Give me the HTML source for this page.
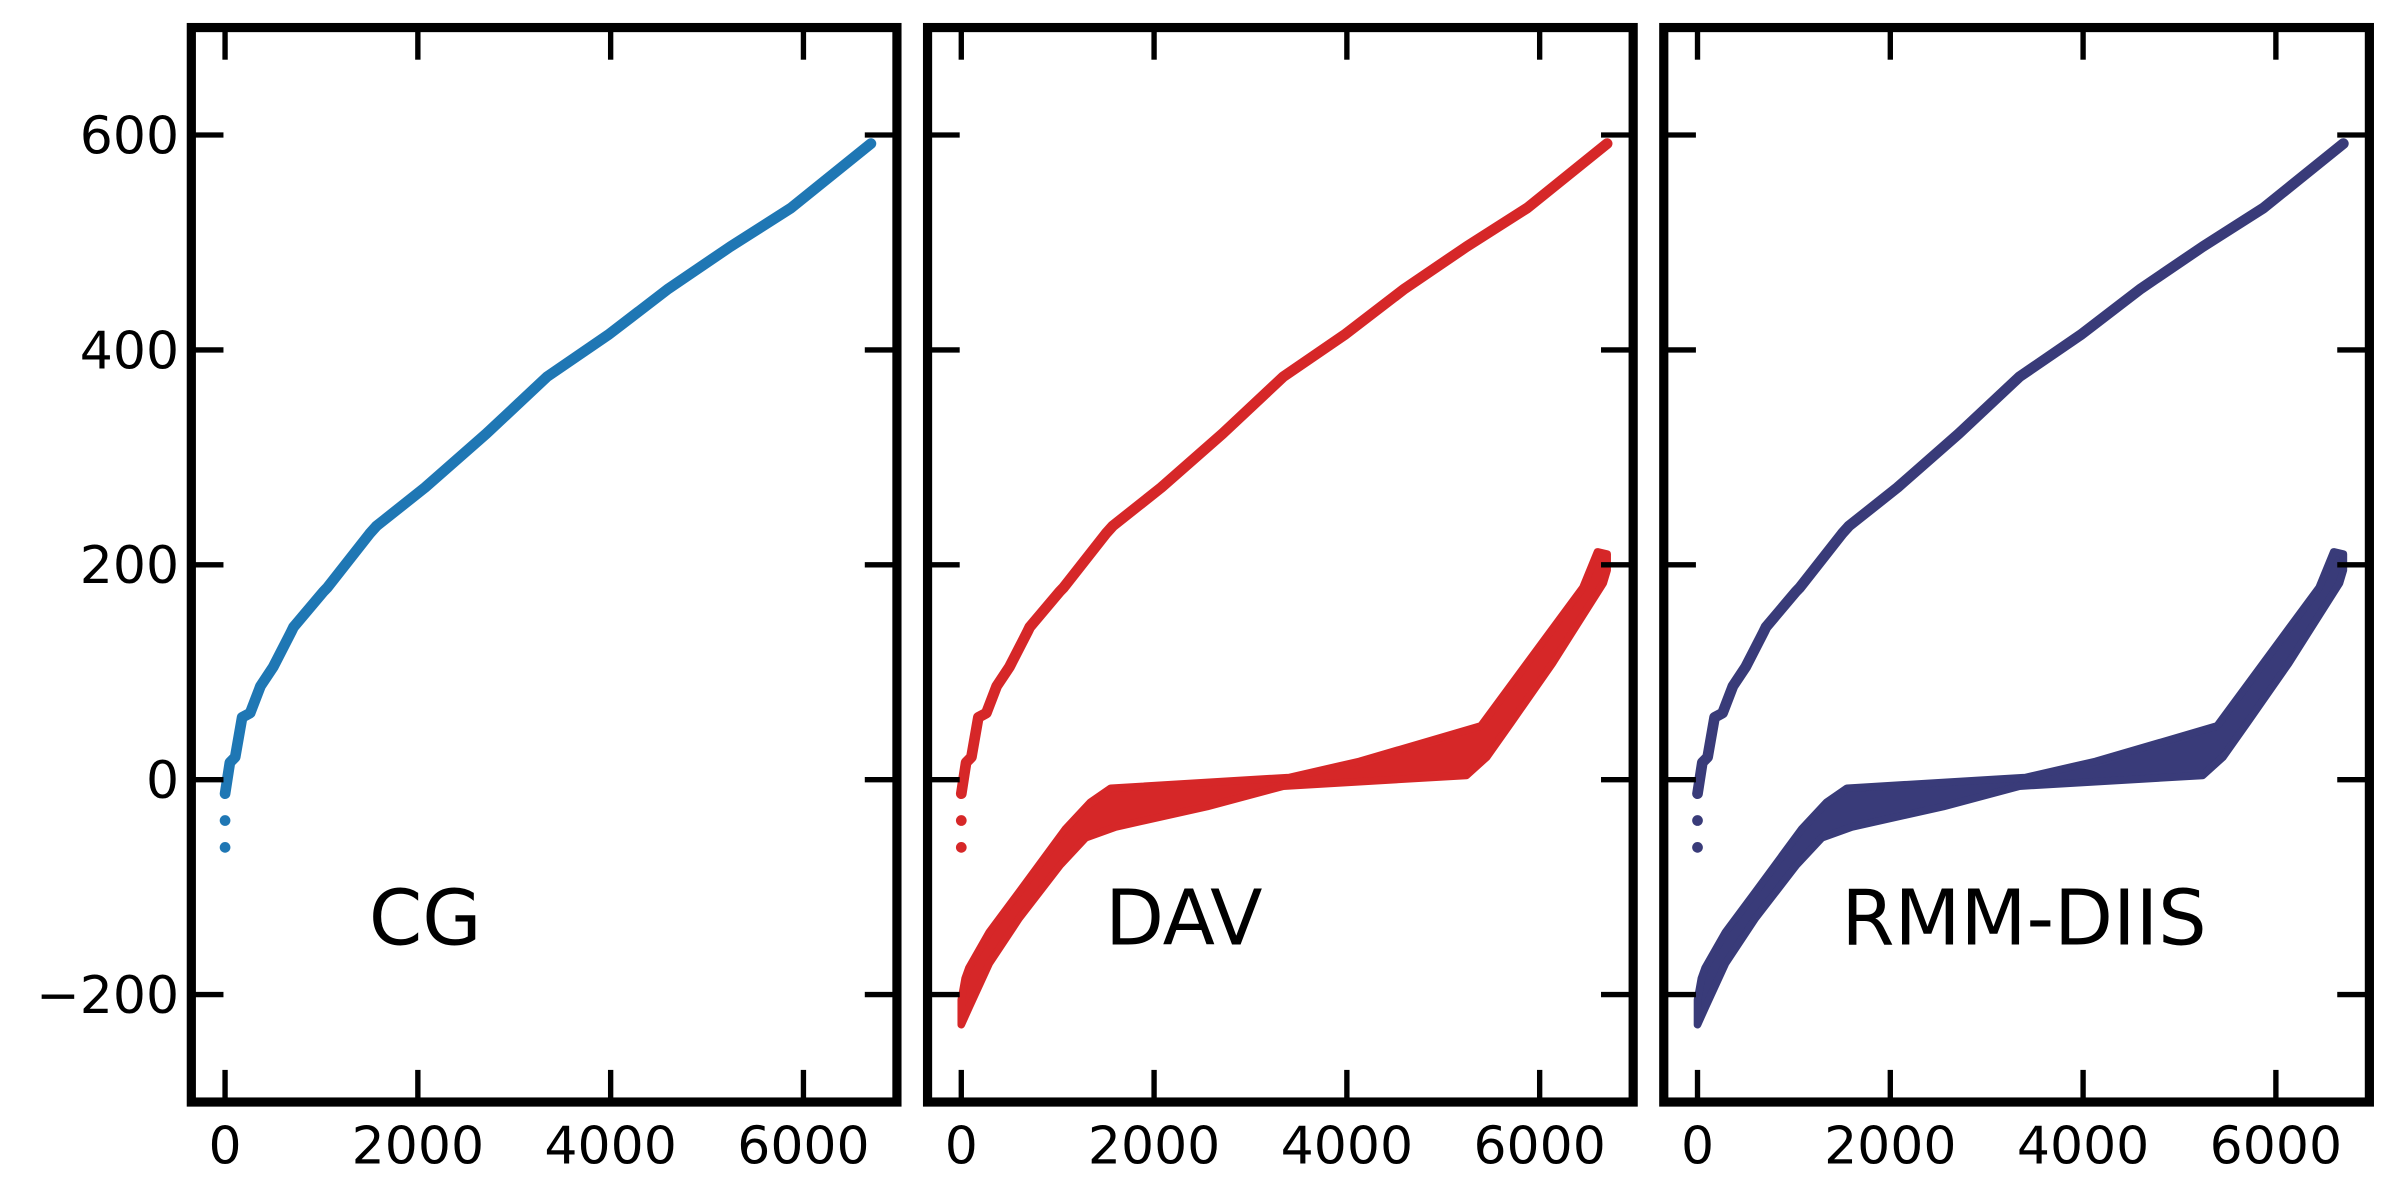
<!DOCTYPE html>
<html><head><meta charset="utf-8"><style>
html,body{margin:0;padding:0;background:#fff;}
svg{display:block;font-family:"DejaVu Sans","Liberation Sans",sans-serif;}
</style></head><body>
<svg id="chart" width="2400" height="1200" viewBox="0 0 1568 784" xmlns="http://www.w3.org/2000/svg"></svg>
<script>
const panelNames = ["CG", "DAV", "RMM-DIIS"];
const panelColors = ["#1f77b4", "#d62728", "#393b79"];
const yTicks = [-200, 0, 200, 400, 600];
const xTicks = [0, 2000, 4000, 6000];
const upperX = [0, 50, 105, 177, 260, 367, 500, 683, 710, 1020, 1063, 1500, 1570, 2075, 2710, 3340, 3975, 4600, 5240, 5870, 6700];
const upperY = [-13, 16, 21, 58, 62, 87, 105, 137, 142, 175, 179, 229, 236, 272, 322, 375, 414, 457, 496, 532, 592];
const outlierY = [-38, -63];
const bandTopX = [0, 40, 80, 290, 605, 1080, 1340, 1550, 3400, 4130, 5390, 6450, 6600, 6700];
const bandTopY = [-205, -185, -175, -142, -104, -46, -21, -8, 2, 17, 50, 179, 212, 210];
const bandBotX = [0, 80, 290, 600, 1030, 1290, 1600, 2550, 3340, 5240, 5450, 5710, 6130, 6660, 6700];
const bandBotY = [-228, -212, -171, -129, -79, -54, -44, -25, -6, 4, 21, 54, 108, 183, 195];
const hasBand = [false, true, true];

const svg = document.getElementById('chart');
const NS = "http://www.w3.org/2000/svg";
const panelLeft = [125, 606, 1087];
const panelW = 461, top0 = 18, bot0 = 720;
const xMin = -350, xMax = 6970, yMin = -300, yMax = 700;
function mk(tag, attrs, parent){ const e = document.createElementNS(NS, tag); for (const k in attrs) e.setAttribute(k, attrs[k]); (parent||svg).appendChild(e); return e; }

panelNames.forEach((name, p) => {
  const L = panelLeft[p];
  const sx = v => L + (v - xMin) / (xMax - xMin) * panelW;
  const sy = v => bot0 - (v - yMin) / (yMax - yMin) * (bot0 - top0);
  const g = mk('g', {});
  
  
  const col = panelColors[p];
  if (hasBand[p]) {
    let pts = bandTopX.map((x,i)=>sx(x)+','+sy(bandTopY[i]));
    for (let i = bandBotX.length-1; i >= 0; i--) pts.push(sx(bandBotX[i])+','+sy(bandBotY[i]));
    const band = mk('polygon', {points: pts.join(' '), fill: col, stroke: col, 'stroke-width': 5, 'stroke-linejoin': 'round'}, g);
    
    
  }
  const line = mk('polyline', {points: upperX.map((x,i)=>sx(x)+','+sy(upperY[i])).join(' '), fill: 'none', stroke: col, 'stroke-width': 7, 'stroke-linecap': 'round', 'stroke-linejoin': 'round'}, g);
  
  
  outlierY.forEach(v => {
    const c = mk('circle', {cx: sx(0), cy: sy(v), r: 3.5, fill: col}, g);
    
    
  });
  const tl = 21;
  yTicks.forEach(v => {
    mk('line', {x1: L, x2: L+tl, y1: sy(v), y2: sy(v), stroke: '#000', 'stroke-width': 3.5}, g);
    mk('line', {x1: L+panelW-tl, x2: L+panelW, y1: sy(v), y2: sy(v), stroke: '#000', 'stroke-width': 3.5}, g);
    if (p === 0) {
      const t = mk('text', {x: 117, y: sy(v)+12, 'text-anchor': 'end', 'font-size': 34, fill: '#000'}, g);
      t.textContent = (v < 0 ? '\u2212' + (-v) : String(v));
      
      
    }
  });
  xTicks.forEach(v => {
    mk('line', {x1: sx(v), x2: sx(v), y1: top0, y2: top0+tl, stroke: '#000', 'stroke-width': 3.5}, g);
    mk('line', {x1: sx(v), x2: sx(v), y1: bot0-tl, y2: bot0, stroke: '#000', 'stroke-width': 3.5}, g);
    const t = mk('text', {x: sx(v), y: 760, 'text-anchor': 'middle', 'font-size': 34, fill: '#000'}, g);
    t.textContent = String(v);
    
    
  });
  const fr = mk('rect', {x: L, y: top0, width: panelW, height: bot0-top0, fill: 'none', stroke: '#000', 'stroke-width': 6}, g);
  
  
  const lab = mk('text', {x: L + 116, y: 617, 'text-anchor': 'start', 'font-size': 50, fill: '#000'}, g);
  lab.textContent = name;
  
  
});
</script>
</body></html>
